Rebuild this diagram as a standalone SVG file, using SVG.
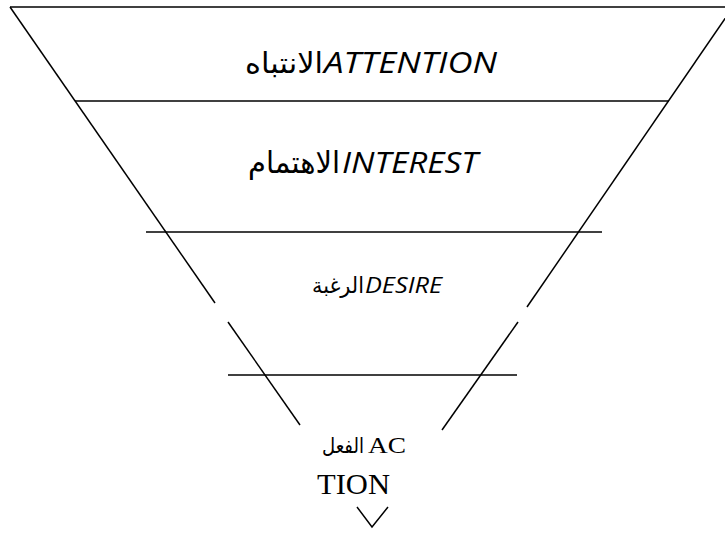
<svg xmlns="http://www.w3.org/2000/svg" width="725" height="534" viewBox="0 0 725 534">
<style>
.ln{stroke:#000;stroke-width:1.5;fill:none;stroke-linecap:butt}
.en{font-family:"Open Sans","Liberation Sans",Arial,sans-serif;font-style:italic;fill:#000}
.ar{font-family:"DejaVu Sans","Noto Sans",sans-serif;fill:#000}
.sr{font-family:"Liberation Serif","Times New Roman",serif;fill:#000}
</style>
<rect width="725" height="534" fill="#fff"/>
<g id="connectors">
<path class="ln" d="M10,7 H733"/>
<path class="ln" d="M75,101 H669"/>
<path class="ln" d="M146,232 H602"/>
<path class="ln" d="M228,375 H517"/>
<path class="ln" d="M10,7 L215,303"/>
<path class="ln" d="M228,322 L300,425"/>
<path class="ln" d="M733,7 L527,307"/>
<path class="ln" d="M518,322 L442,430"/>
<path class="ln" d="M357,507 L372,527 L388,507"/>
</g>
<g id="attention">
<text class="ar" x="245" y="73" font-size="29" textLength="78" lengthAdjust="spacingAndGlyphs">الانتباه</text>
<text class="en" x="324" y="73" font-size="30" textLength="173" lengthAdjust="spacingAndGlyphs">ATTENTION</text>
</g>
<g id="interest">
<text class="ar" x="248" y="173" font-size="30" textLength="92" lengthAdjust="spacingAndGlyphs">الاهتمام</text>
<text class="en" x="342" y="173" font-size="30" textLength="136" lengthAdjust="spacingAndGlyphs">INTEREST</text>
</g>
<g id="desire">
<text class="ar" x="312" y="293" font-size="22" textLength="52" lengthAdjust="spacingAndGlyphs">الرغبة</text>
<text class="en" x="365" y="293" font-size="22" textLength="77" lengthAdjust="spacingAndGlyphs">DESIRE</text>
</g>
<g id="action">
<text class="ar" x="322" y="453" font-size="21" textLength="42" lengthAdjust="spacingAndGlyphs">الفعل</text>
<text class="sr" x="368" y="453" font-size="24" textLength="38" lengthAdjust="spacingAndGlyphs">AC</text>
<text class="sr" x="317" y="494" font-size="29" textLength="73" lengthAdjust="spacingAndGlyphs">TION</text>
</g>
</svg>
